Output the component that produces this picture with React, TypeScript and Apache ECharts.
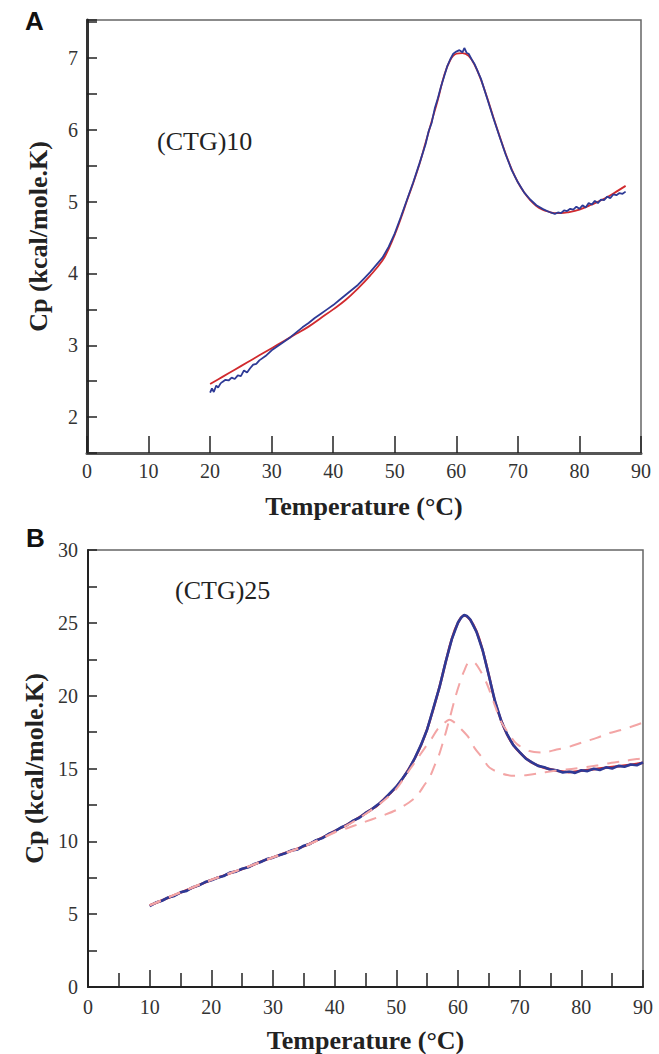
import React, { useEffect, useRef } from "react";
import * as echarts from "echarts";

// ---------- Panel A: (CTG)10 ----------
const fitTempA = [20, 22, 24, 26, 28, 30, 32, 34, 36, 38, 40, 42, 44, 46, 48, 49, 50, 51, 52, 53, 54, 55, 56, 57, 58, 59, 60, 61, 62, 63, 64, 65, 66, 67, 68, 69, 70, 71, 72, 73, 74, 75, 76, 77, 78, 80, 82, 84, 86, 87.5];
const fitCpA = [2.46, 2.56, 2.66, 2.76, 2.86, 2.96, 3.06, 3.16, 3.26, 3.38, 3.5, 3.63, 3.79, 3.97, 4.18, 4.34, 4.54, 4.77, 5.02, 5.26, 5.52, 5.82, 6.12, 6.42, 6.75, 6.97, 7.06, 7.07, 7.03, 6.9, 6.7, 6.45, 6.18, 5.92, 5.67, 5.45, 5.27, 5.13, 5.02, 4.94, 4.89, 4.86, 4.84, 4.84, 4.85, 4.89, 4.96, 5.04, 5.14, 5.22];

const dataA: [number, number][] = [
  [20, 2.34], [20.3, 2.4], [20.6, 2.35], [21, 2.44], [21.3, 2.41], [21.7, 2.47], [22, 2.49], [22.5, 2.52], [23, 2.51], [23.5, 2.55], [24, 2.53], [24.5, 2.58], [25, 2.57], [25.5, 2.65], [26, 2.62], [26.5, 2.68], [27, 2.73], [27.5, 2.74], [28, 2.79], [29, 2.85], [30, 2.93], [31, 2.99], [32, 3.05], [33, 3.11], [34, 3.18], [35, 3.25], [36, 3.31], [37, 3.38], [38, 3.44], [39, 3.5], [40, 3.56], [41, 3.63], [42, 3.7], [43, 3.77], [44, 3.84], [45, 3.93], [46, 4.02], [47, 4.12], [48, 4.22], [49, 4.37], [50, 4.56], [51, 4.79], [52, 5.03], [53, 5.27], [54, 5.53], [55, 5.8], [55.5, 5.98], [56, 6.1], [56.5, 6.3], [57, 6.44], [57.5, 6.6], [58, 6.74], [58.5, 6.88], [59, 6.98], [59.5, 7.06], [60, 7.09], [60.5, 7.11], [61, 7.08], [61.3, 7.14], [61.7, 7.07], [62, 7.06], [62.5, 6.98], [63, 6.91], [64, 6.71], [65, 6.44], [66, 6.17], [67, 5.91], [68, 5.66], [69, 5.44], [70, 5.27], [71, 5.13], [72, 5.03], [73, 4.95], [74, 4.9], [75, 4.86], [76, 4.83], [76.5, 4.85], [77, 4.84], [77.5, 4.88], [78, 4.87], [78.5, 4.9], [79, 4.89], [79.5, 4.93], [80, 4.9], [80.5, 4.95], [81, 4.92], [81.5, 4.98], [82, 4.96], [82.5, 5.01], [83, 4.98], [83.5, 5.03], [84, 5.02], [84.5, 5.07], [85, 5.05], [85.5, 5.1], [86, 5.09], [86.5, 5.12], [87, 5.11], [87.5, 5.14],
];

// ---------- Panel B: (CTG)25 ----------
const fitTempB = [10, 12, 14, 16, 18, 20, 22, 24, 26, 28, 30, 32, 34, 36, 38, 40, 42, 44, 46, 47, 48, 49, 50, 51, 52, 53, 54, 55, 56, 57, 58, 59, 60, 61, 62, 63, 64, 65, 66, 67, 68, 69, 70, 71, 72, 73, 74, 75, 76, 77, 78, 80, 82, 84, 86, 88, 90];
const fitCpB = [5.6, 5.95, 6.3, 6.65, 7.0, 7.35, 7.65, 7.95, 8.25, 8.6, 8.9, 9.2, 9.5, 9.85, 10.25, 10.7, 11.15, 11.65, 12.2, 12.5, 12.9, 13.3, 13.75, 14.3, 14.95, 15.7, 16.6, 17.7, 19.1, 20.6, 22.3, 23.9, 25.0, 25.5, 25.2, 24.4, 23.1, 21.4, 19.6, 18.3, 17.3, 16.6, 16.1, 15.7, 15.4, 15.2, 15.05, 14.95, 14.85, 14.8, 14.75, 14.85, 14.95, 15.05, 15.15, 15.25, 15.4];

const dataB: [number, number][] = [
  [10, 5.55], [11, 5.8], [12, 5.92], [13, 6.15], [14, 6.25], [15, 6.5], [16, 6.6], [17, 6.85], [18, 6.98], [19, 7.2], [20, 7.32], [21, 7.5], [22, 7.62], [23, 7.85], [24, 7.92], [25, 8.12], [26, 8.22], [27, 8.45], [28, 8.58], [29, 8.78], [30, 8.88], [31, 9.05], [32, 9.18], [33, 9.38], [34, 9.45], [35, 9.7], [36, 9.82], [37, 10.08], [38, 10.22], [39, 10.5], [40, 10.68], [41, 10.95], [42, 11.12], [43, 11.42], [44, 11.62], [45, 11.95], [46, 12.2], [47, 12.52], [48, 12.88], [49, 13.32], [50, 13.75], [51, 14.32], [52, 14.92], [53, 15.72], [54, 16.62], [55, 17.68], [56, 19.12], [57, 20.58], [58, 22.32], [59, 23.88], [60, 25.02], [60.5, 25.35], [61, 25.55], [61.5, 25.45], [62, 25.22], [63, 24.38], [64, 23.12], [65, 21.38], [66, 19.62], [67, 18.28], [68, 17.32], [69, 16.58], [70, 16.12], [71, 15.68], [72, 15.42], [73, 15.18], [74, 15.08], [75, 14.92], [76, 14.88], [77, 14.72], [78, 14.8], [79, 14.7], [80, 14.88], [81, 14.82], [82, 14.98], [83, 14.9], [84, 15.08], [85, 15.0], [86, 15.18], [87, 15.12], [88, 15.28], [89, 15.22], [90, 15.42],
];

const deconvUpperB: [number, number][] = [
  [10, 5.6], [15, 6.5], [20, 7.35], [25, 8.12], [30, 8.9], [35, 9.65], [38, 10.2], [40, 10.6], [42, 10.9], [44, 11.2], [46, 11.5], [48, 11.8], [50, 12.15], [52, 12.65], [53.3, 13.1], [54.6, 13.9], [55.4, 14.4], [56.2, 15.2], [56.9, 15.9], [57.7, 17.0], [58.5, 18.2], [59.5, 19.8], [60.3, 20.9], [61, 21.7], [61.8, 22.3], [62.5, 22.3], [63.5, 21.8], [64.7, 20.8], [66, 19.3], [67, 18.2], [68.4, 17.3], [69.5, 16.7], [71.6, 16.2], [73.7, 16.1], [76, 16.3], [78.1, 16.5], [80.2, 16.8], [82.5, 17.1], [84.3, 17.4], [86.5, 17.65], [88.3, 17.9], [90, 18.15],
];

const deconvShoulderB: [number, number][] = [
  [10, 5.6], [15, 6.5], [20, 7.35], [25, 8.1], [30, 8.9], [35, 9.65], [40, 10.65], [44, 11.6], [48, 12.8], [50, 13.6], [52.2, 14.95], [53.3, 15.6], [54.6, 16.4], [55.8, 17.1], [56.7, 17.7], [57.7, 18.1], [58.6, 18.35], [59.3, 18.2], [60.3, 17.8], [61.6, 17.2], [62.7, 16.4], [63.9, 15.75], [64.8, 15.2], [65.5, 14.95], [66.8, 14.7], [68, 14.55], [69.2, 14.5], [71.3, 14.55], [73.6, 14.7], [75.7, 14.85], [79, 15.0], [82.5, 15.2], [84.3, 15.35], [86.7, 15.5], [89, 15.65], [90, 15.7],
];

const SERIF = "'Liberation Serif', 'Times New Roman', serif";
const SANS = "'Liberation Sans', Arial, sans-serif";
const BLUE = "#2e3a96";
const RED = "#d12a2e";
const PINK = "#f3a5a5";

function pairs(t: number[], v: number[]): [number, number][] {
  return t.map((x, i) => [x, v[i]]);
}

export default function App() {
  const ref = useRef<HTMLDivElement>(null);

  useEffect(() => {
    if (!ref.current) return;
    const chart = echarts.init(ref.current, null, { renderer: "svg" });

    const labelStyle = { fontFamily: SERIF, fontSize: 20, color: "#333" };
    const nameStyle = { fontFamily: SERIF, fontSize: 26, fontWeight: "bold" as const, color: "#222" };

    const option: any = {
      animation: false,
      backgroundColor: "#fff",
      grid: [
        { left: 87, top: 20, width: 554, height: 433, show: true, borderColor: "#666", borderWidth: 1.5, backgroundColor: "transparent" },
        { left: 88, top: 550, width: 555, height: 437, show: true, borderColor: "#666", borderWidth: 1.5, backgroundColor: "transparent" },
      ],
      xAxis: [
        {
          type: "value", gridIndex: 0, min: 0, max: 90, interval: 10,
          axisLine: { show: true, lineStyle: { color: "#555", width: 3 } },
          axisTick: { show: true, inside: true, length: 17, lineStyle: { color: "#222", width: 1.5 } },
          axisLabel: { ...labelStyle, margin: 8 },
          splitLine: { show: false },
          name: "Temperature (°C)", nameLocation: "middle", nameGap: 40, nameTextStyle: nameStyle,
        },
        {
          type: "value", gridIndex: 1, min: 0, max: 90, interval: 10,
          axisLine: { show: true, lineStyle: { color: "#222", width: 2 } },
          axisTick: { show: true, inside: true, length: 17, lineStyle: { color: "#222", width: 1.5 } },
          minorTick: { show: true, splitNumber: 2, length: 14, lineStyle: { color: "#222", width: 1.5 } },
          axisLabel: { ...labelStyle, margin: 10 },
          splitLine: { show: false },
          name: "Temperature (°C)", nameLocation: "middle", nameGap: 40, nameTextStyle: nameStyle,
        },
      ],
      yAxis: [
        {
          type: "value", gridIndex: 0, min: 1.5, max: 7.53, interval: 0.5,
          axisLine: { show: true, lineStyle: { color: "#333", width: 3 } },
          axisTick: { show: true, inside: true, length: 10, lineStyle: { color: "#222", width: 1.5 } },
          axisLabel: {
            ...labelStyle, margin: 9,
            formatter: (v: number) => (Math.abs(v - Math.round(v)) < 1e-6 ? String(Math.round(v)) : ""),
          },
          splitLine: { show: false },
          name: "Cp (kcal/mole.K)", nameLocation: "middle", nameGap: 36, nameTextStyle: nameStyle,
        },
        {
          type: "value", gridIndex: 1, min: 0, max: 30, interval: 5,
          axisLine: { show: true, lineStyle: { color: "#222", width: 2 } },
          axisTick: { show: true, inside: true, length: 9, lineStyle: { color: "#222", width: 1.5 } },
          minorTick: { show: true, splitNumber: 2, length: 9, lineStyle: { color: "#222", width: 1.5 } },
          axisLabel: { ...labelStyle, margin: 10 },
          splitLine: { show: false },
          name: "Cp (kcal/mole.K)", nameLocation: "middle", nameGap: 36, nameTextStyle: nameStyle,
        },
      ],
      series: [
        {
          name: "Fit (CTG)10", type: "line", xAxisIndex: 0, yAxisIndex: 0, data: pairs(fitTempA, fitCpA),
          smooth: 0.4, showSymbol: false, lineStyle: { color: RED, width: 1.8 }, z: 2,
        },
        {
          name: "Data (CTG)10", type: "line", xAxisIndex: 0, yAxisIndex: 0, data: dataA,
          showSymbol: false, lineStyle: { color: BLUE, width: 1.8 }, z: 3,
        },
        {
          name: "Fit (CTG)25", type: "line", xAxisIndex: 1, yAxisIndex: 1, data: pairs(fitTempB, fitCpB),
          smooth: 0.4, showSymbol: false, lineStyle: { color: RED, width: 2.5 }, z: 2,
        },
        {
          name: "Data (CTG)25", type: "line", xAxisIndex: 1, yAxisIndex: 1, data: dataB,
          showSymbol: false, lineStyle: { color: BLUE, width: 2.6 }, z: 3,
        },
        {
          name: "Transition 2", type: "line", xAxisIndex: 1, yAxisIndex: 1, data: deconvUpperB,
          smooth: 0.3, showSymbol: false, lineStyle: { color: PINK, width: 2, type: [12, 9] }, z: 4,
        },
        {
          name: "Transition 1", type: "line", xAxisIndex: 1, yAxisIndex: 1, data: deconvShoulderB,
          smooth: 0.3, showSymbol: false, lineStyle: { color: PINK, width: 2, type: [12, 9] }, z: 4,
        },
      ],
      graphic: [
        { type: "text", left: 25, top: 8, style: { text: "A", fontFamily: SANS, fontSize: 26, fontWeight: "bold", fill: "#111" } },
        { type: "text", left: 26, top: 525, style: { text: "B", fontFamily: SANS, fontSize: 26, fontWeight: "bold", fill: "#111" } },
        { type: "text", left: 157, top: 128, style: { text: "(CTG)10", fontFamily: SERIF, fontSize: 26, fill: "#222" } },
        { type: "text", left: 175, top: 577, style: { text: "(CTG)25", fontFamily: SERIF, fontSize: 26, fill: "#222" } },
      ],
    };

    chart.setOption(option);
    return () => chart.dispose();
  }, []);

  return (
    <div
      ref={ref}
      style={{ position: "absolute", left: 0, top: 0, width: 659, height: 1054, background: "#fff" }}
    />
  );
}
